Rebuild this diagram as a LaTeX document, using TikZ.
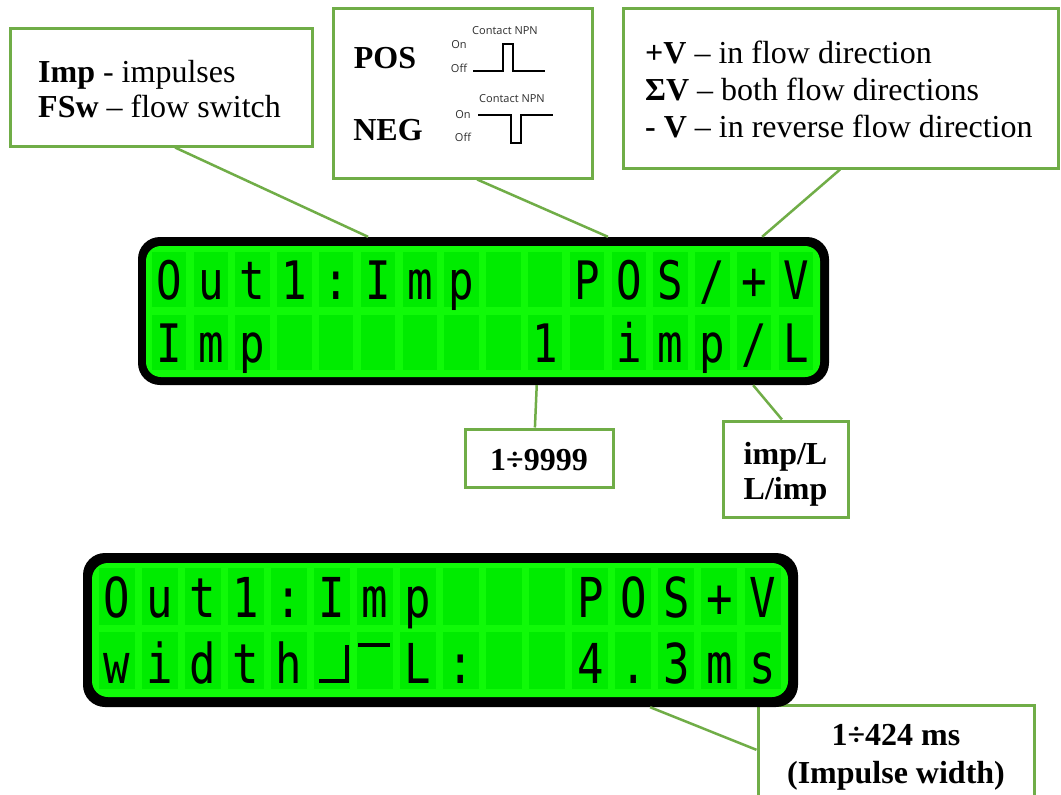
\documentclass[tikz,border=0pt]{standalone}
\usepackage{fontspec}
\setmainfont{Liberation Serif}
\newfontfamily\lcdfont{DejaVu Sans Mono}
\newfontfamily\smallsans{Open Sans}
\usetikzlibrary{calc}
\definecolor{boxgreen}{RGB}{112,173,71}
\definecolor{lcdbg}{RGB}{16,250,8}
\definecolor{lcdcell}{RGB}{0,236,0}
\definecolor{wavegray}{RGB}{45,45,45}
\begin{document}
\begin{tikzpicture}[x=1pt,y=-1pt,
  callout/.style={draw=boxgreen, line width=3, fill=white, inner sep=0pt},
  conn/.style={draw=boxgreen, line width=2.5},
  lbl/.style={inner sep=0pt, font=\fontsize{32}{36}\selectfont, anchor=base west},
  lblc/.style={inner sep=0pt, font=\fontsize{32}{36}\selectfont\bfseries, anchor=base},
  small/.style={inner sep=0pt, font=\fontsize{11}{13}\smallsans, text=wavegray},
  lcdouter/.style={fill=black, rounded corners=22, inner sep=0pt},
  lcdch/.style={inner sep=0pt, anchor=base, font=\fontsize{53}{53}\lcdfont, xscale=0.8},
  lcdchb/.style={inner sep=0pt, anchor=base, font=\fontsize{55}{55}\lcdfont, xscale=0.8},
  wave/.style={draw=black, line width=1.3},
]
\useasboundingbox (0,0) rectangle (1061,795);
\clip (0,0) rectangle (1061,795);
\fill[white] (0,0) rectangle (1061,795);

% ---------- callout boxes ----------
\node[callout, minimum width=302, minimum height=118] (impbox) at (161,87) {};
\node[lbl] (imp1) at (38,82) {\textbf{Imp} - impulses};
\node[lbl] (imp2) at (38,117) {\textbf{FSw} – flow switch};

\node[callout, minimum width=259, minimum height=170] (posbox) at (462.5,93) {};
\node[lblc] (pos) at (385,68) {POS};
\node[lblc] (neg) at (388,140) {NEG};
\node[small] (cn1) at (505,31) {Contact NPN};
\node[small] (on1) at (459,45) {On};
\node[small] (off1) at (459,68) {Off};
\node[small] (cn2) at (512,99) {Contact NPN};
\node[small] (on2) at (463,115) {On};
\node[small] (off2) at (463,137) {Off};
\draw[wave] (473,71) -- (503,71) -- (503,44) -- (513,44) -- (513,71) -- (545,71);
\draw[wave] (478,115) -- (511,115) -- (511,143) -- (521,143) -- (521,115) -- (553,115);

\node[callout, minimum width=435, minimum height=160] (vbox) at (840.5,88) {};
\node[lbl] (v1) at (645,63) {\textbf{+V} – in flow direction};
\node[lbl] (v2) at (645,100) {\textbf{ΣV} – both flow directions};
\node[lbl] (v3) at (645,137) {\textbf{- V} – in reverse flow direction};

\node[callout, minimum width=148, minimum height=58] (rngbox) at (539,458) {};
\node[lblc] (rng) at (539,470) {1÷9999};

\node[callout, minimum width=125, minimum height=96] (unitbox) at (785.5,469) {};
\node[lblc] (unit1) at (785.5,464) {imp/L};
\node[lblc] (unit2) at (785.5,499) {L/imp};

\node[callout, minimum width=276, minimum height=110] (wbox) at (896,760) {};
\node[lblc] (w1) at (896,745) {1÷424 ms};
\node[lblc] (w2) at (896,783) {(Impulse width)};

% ---------- LCD 1 ----------
\node[lcdouter, minimum width=691, minimum height=148] (lcd1) at (483.5,311) {};
\fill[lcdbg, rounded corners=15] (146,246) rectangle (820,377);
\foreach \i in {0,...,15} {
  \pgfmathsetmacro\cx{169+\i*41.8}
  \fill[lcdcell] (\cx-17.25,252) rectangle (\cx+17.25,307);
  \fill[lcdcell] (\cx-17.25,315) rectangle (\cx+17.25,370);
}
\foreach \ch [count=\i from 0] in {O,u,t,1,:,I,m,p}
  \node[lcdch] (la\i) at ({169+\i*41.8},299) {\ch};
\foreach \ch [count=\i from 10] in {P,O,S,/,+,V}
  \node[lcdch] (la\i) at ({169+\i*41.8},299) {\ch};
\foreach \ch [count=\i from 0] in {I,m,p}
  \node[lcdch] (lb\i) at ({169+\i*41.8},362) {\ch};
\node[lcdch] (lb9) at ({169+9*41.8},362) {1};
\foreach \ch [count=\i from 11] in {i,m,p,/,L}
  \node[lcdch] (lb\i) at ({169+\i*41.8},362) {\ch};

% ---------- LCD 2 ----------
\node[lcdouter, minimum width=715, minimum height=154] (lcd2) at (440.5,630) {};
\fill[lcdbg, rounded corners=16] (92,563) rectangle (788,697);
\foreach \i in {0,...,15} {
  \pgfmathsetmacro\cx{116.5+\i*43.07}
  \fill[lcdcell] (\cx-18,568) rectangle (\cx+18,625);
  \fill[lcdcell] (\cx-18,632) rectangle (\cx+18,689);
}
\foreach \ch [count=\i from 0] in {O,u,t,1,:,I,m,p}
  \node[lcdchb] (ma\i) at ({116.5+\i*43.07},617) {\ch};
\foreach \ch [count=\i from 11] in {P,O,S,+,V}
  \node[lcdchb] (ma\i) at ({116.5+\i*43.07},617) {\ch};
\foreach \ch [count=\i from 0] in {w,i,d,t,h}
  \node[lcdchb] (mb\i) at ({116.5+\i*43.07},683) {\ch};
\draw[line width=3.5] (319,681) -- (347,681) -- (347,645);
\draw[line width=3.5] (358,645) -- (390,645);
\node[lcdchb] (mb7) at ({116.5+7*43.07},683) {L};
\node[lcdchb] (mb8) at ({116.5+8*43.07},683) {:};
\foreach \ch [count=\i from 11] in {4,.,3,m,s}
  \node[lcdchb] (mb\i) at ({116.5+\i*43.07},683) {\ch};

% ---------- connectors ----------
\draw[conn] ($(impbox.south west)!0.546!(impbox.south east)$) -- ($(lcd1.north west)!0.333!(lcd1.north east)$);
\draw[conn] ($(posbox.south west)!0.556!(posbox.south east)$) -- ($(lcd1.north west)!0.680!(lcd1.north east)$);
\draw[conn] ($(vbox.south west)!0.499!(vbox.south east)$) -- ($(lcd1.north west)!0.903!(lcd1.north east)$);
\draw[conn] ($(lcd1.south west)!0.577!(lcd1.south east)$) -- ($(rngbox.north west)!0.473!(rngbox.north east)$);
\draw[conn] ($(lcd1.south west)!0.890!(lcd1.south east)$) -- ($(unitbox.north west)!0.472!(unitbox.north east)$);
\draw[conn] ($(lcd2.south west)!0.793!(lcd2.south east)$) -- ($(wbox.north west)!0.41!(wbox.south west)$);
\end{tikzpicture}
\end{document}
